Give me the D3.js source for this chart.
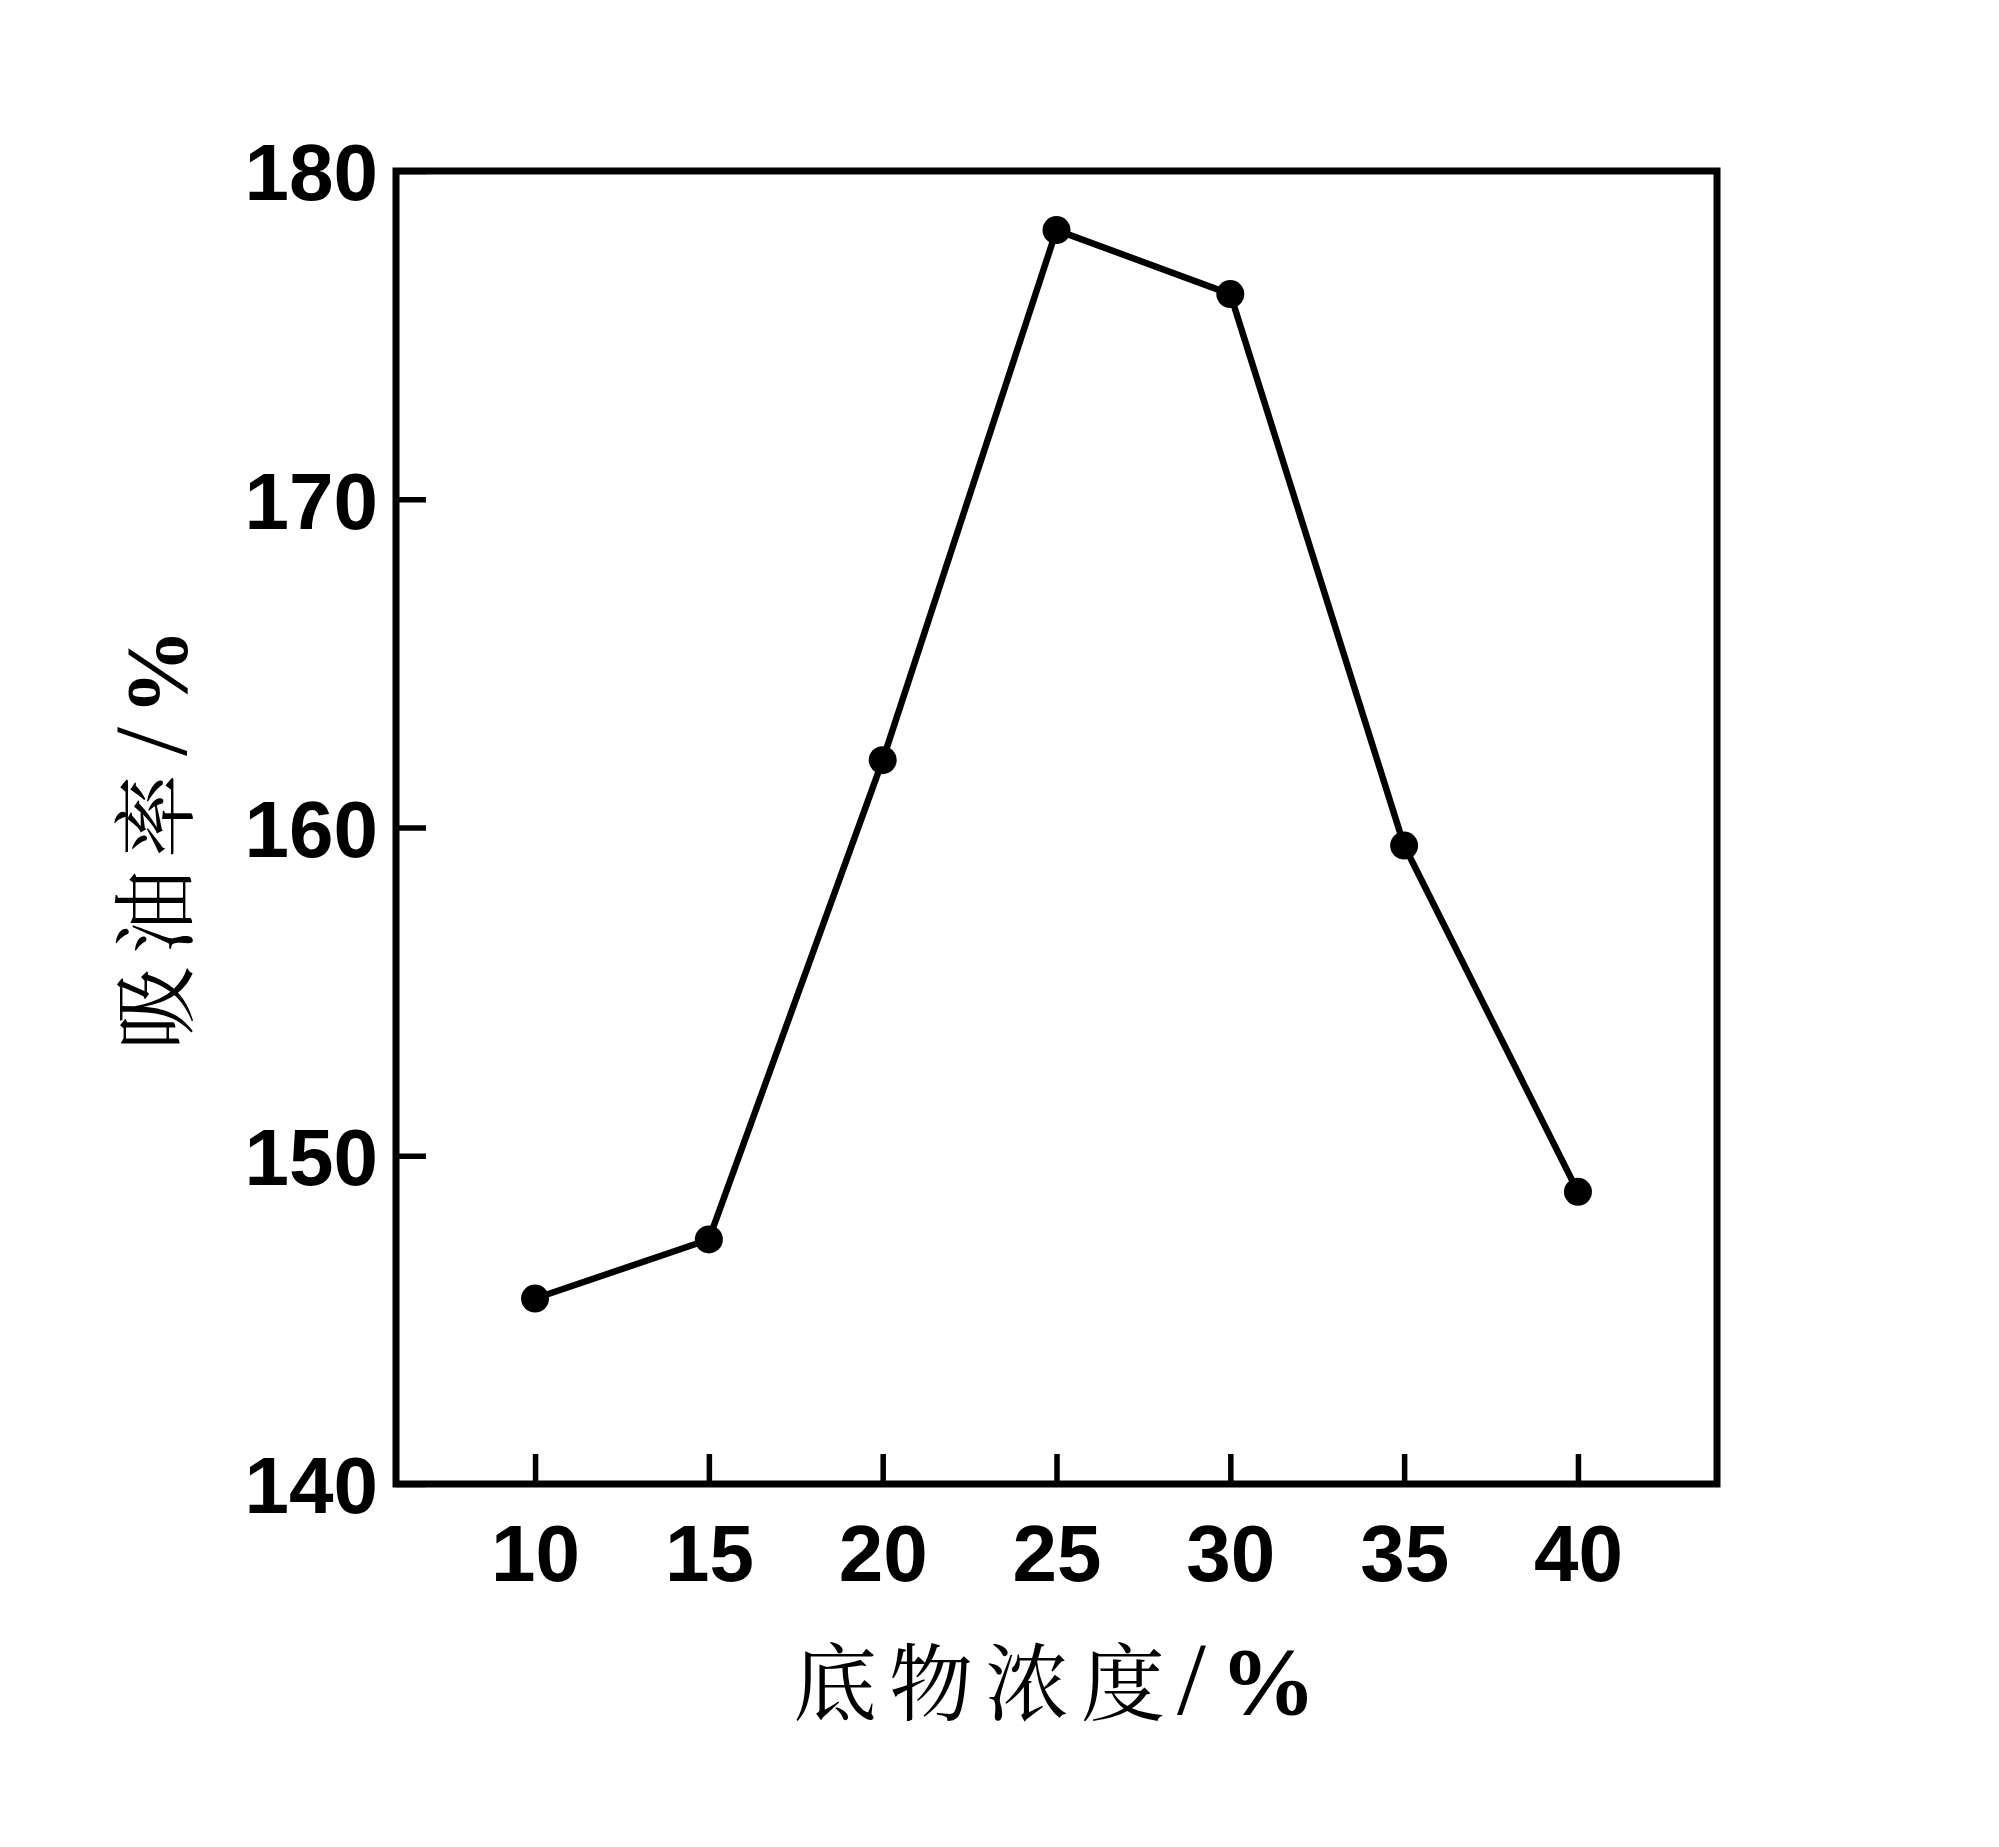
<!DOCTYPE html>
<html><head><meta charset="utf-8">
<script src="https://cdn.jsdelivr.net/npm/d3@7"></script>
<style>html,body{margin:0;padding:0;background:#fff;}</style>
</head><body>
<script>
const xValues = [10, 15, 20, 25, 30, 35, 40];
const yValues = [145.65, 147.45, 162.05, 178.2, 176.25, 159.45, 148.9];
const xTicks = [10, 15, 20, 25, 30, 35, 40];
const yTicks = [140, 150, 160, 170, 180];
const xLabelMain = "底物浓度";
const yLabelMain = "吸油率";
const unitSlash = "/";
const unitPct = "%";

const W = 1999, H = 1847;
const L = 396, R = 1717, T = 171, B = 1484;
const svg = d3.select("body").append("svg").attr("width", W).attr("height", H);
svg.append("rect").attr("width", W).attr("height", H).attr("fill", "#fff");

const x = d3.scaleLinear().domain([6, 44]).range([L, R]);
const y = d3.scaleLinear().domain([140, 180]).range([B, T]);

const numFont = "'Liberation Sans', Arial, sans-serif";
const cjkFont = "'Noto Serif CJK SC', 'Noto Sans CJK SC', serif";
const serifFont = "'Liberation Serif', 'Times New Roman', serif";

// x axis
const gx = svg.append("g").attr("transform", `translate(0,${B})`)
  .call(d3.axisBottom(x).tickValues(xTicks).tickSize(-30).tickPadding(39).tickFormat(d3.format("d")));
gx.select(".domain").remove();
gx.selectAll(".tick line").attr("stroke", "#000").attr("stroke-width", 5.5);
gx.selectAll(".tick text").attr("font-family", numFont).attr("font-weight", "bold")
  .attr("font-size", 80).attr("fill", "#000").attr("dy", "0.72em");

// y axis
const gy = svg.append("g").attr("transform", `translate(${L},0)`)
  .call(d3.axisLeft(y).tickValues(yTicks).tickSize(-30).tickPadding(18).tickFormat(d3.format("d")));
gy.select(".domain").remove();
gy.selectAll(".tick line").attr("stroke", "#000").attr("stroke-width", 5.5);
gy.selectAll(".tick text").attr("font-family", numFont).attr("font-weight", "bold")
  .attr("font-size", 80).attr("fill", "#000").attr("dy", "0.36em");

// frame
svg.append("rect").attr("x", L).attr("y", T).attr("width", R - L).attr("height", B - T)
  .attr("fill", "none").attr("stroke", "#000").attr("stroke-width", 7);

// line
const data = xValues.map((d, i) => ({x: d, y: yValues[i]}));
svg.append("path").datum(data)
  .attr("d", d3.line().x(d => x(d.x)).y(d => y(d.y)))
  .attr("fill", "none").attr("stroke", "#000").attr("stroke-width", 6.5).attr("stroke-linejoin", "round");
svg.selectAll("circle.pt").data(data).enter().append("circle").attr("class", "pt")
  .attr("cx", d => x(d.x)).attr("cy", d => y(d.y)).attr("r", 14).attr("fill", "#000");

// axis titles
function title(g, main, slashGap, pctSize, pctGap) {
  const t = g.append("text").attr("fill", "#000");
  t.append("tspan").attr("font-family", cjkFont).attr("font-size", 84)
    .attr("letter-spacing", 12).text(main);
  t.append("tspan").attr("font-family", serifFont).attr("font-size", 104)
    .attr("dx", slashGap).text(unitSlash);
  t.append("tspan").attr("font-family", serifFont).attr("font-weight", "bold")
    .attr("font-size", pctSize).attr("dx", pctGap).text(unitPct);
  return t;
}
const gxt = svg.append("g").attr("transform", "translate(793,1714)");
title(gxt, xLabelMain, 0, 96, 14);
const gyt = svg.append("g").attr("transform", "translate(186,1050) rotate(-90)");
title(gyt, yLabelMain, 6, 86, 12);
</script>
</body></html>
